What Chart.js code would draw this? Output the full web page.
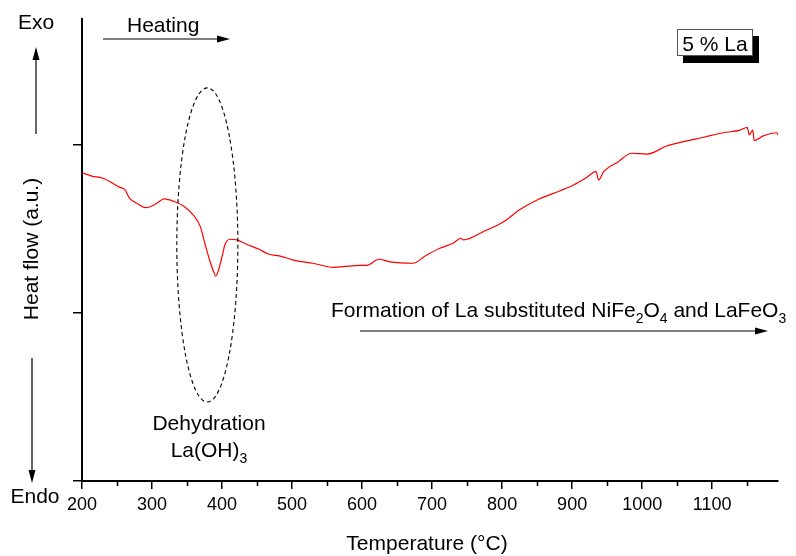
<!DOCTYPE html>
<html>
<head>
<meta charset="utf-8">
<script src="https://cdn.jsdelivr.net/npm/chart.js@4.4.1/dist/chart.umd.min.js"></script>
<style>
  body { margin: 0; background: #fff; }
  #wrap { width: 796px; height: 556px; }
</style>
</head>
<body>
<div id="wrap"><canvas id="dsc" width="796" height="556"></canvas></div>
<script>
// DSC trace (temperature in C, heat flow in a.u.)
const temps = [200, 214, 230, 254, 261, 268, 280, 291, 307, 317, 336, 345, 359, 369, 376, 383, 388, 391, 395, 400,
  404, 411, 421, 435, 453, 466, 483, 502, 530, 559, 573, 597, 607, 624, 640, 673, 690, 711, 730, 741,
  745, 773, 802, 826, 850, 883, 902, 919, 934, 938, 945, 966, 985, 1007, 1035, 1059, 1088, 1116, 1140, 1150,
  1153, 1158, 1160, 1173, 1192, 1194];
const heatFlow = [1.835, 1.815, 1.802, 1.748, 1.736, 1.683, 1.649, 1.627, 1.653, 1.679, 1.656, 1.637, 1.583, 1.514, 1.405, 1.305, 1.246, 1.220, 1.256, 1.335,
  1.405, 1.439, 1.435, 1.409, 1.379, 1.351, 1.339, 1.315, 1.296, 1.272, 1.276, 1.284, 1.284, 1.320, 1.304, 1.296, 1.339, 1.385, 1.415, 1.445,
  1.435, 1.484, 1.543, 1.617, 1.673, 1.728, 1.762, 1.802, 1.841, 1.792, 1.841, 1.901, 1.951, 1.946, 1.994, 2.020, 2.046, 2.073, 2.089, 2.105,
  2.060, 2.089, 2.026, 2.054, 2.073, 2.060];

const xTicks = [200, 300, 400, 500, 600, 700, 800, 900, 1000, 1100];
const xMinorTicks = [250, 350, 450, 550, 650, 750, 850, 950, 1050, 1150];
const yTicks = [0, 1, 2];

// dashed ellipse around the dehydration dip (data units)
const ellipseCenter = [379, 1.405];
const ellipseRadius = [43.6, 0.935];

const FONT = '"Liberation Sans", Arial, sans-serif';

function arrow(ctx, x1, y1, x2, y2) {
    const a = Math.atan2(y2 - y1, x2 - x1);
    const len = 13, hw = 3.5;
    ctx.beginPath();
    ctx.moveTo(x1, y1);
    ctx.lineTo(x2 - len * Math.cos(a), y2 - len * Math.sin(a));
    ctx.stroke();
    ctx.beginPath();
    ctx.moveTo(x2, y2);
    ctx.lineTo(x2 - len * Math.cos(a) + hw * Math.sin(a), y2 - len * Math.sin(a) - hw * Math.cos(a));
    ctx.lineTo(x2 - len * Math.cos(a) - hw * Math.sin(a), y2 - len * Math.sin(a) + hw * Math.cos(a));
    ctx.closePath();
    ctx.fill();
}

// text with subscripts: parts = [[text, isSub], ...]
function subText(ctx, parts, x, y) {
    let cx = x;
    parts.forEach(([t, sub]) => {
        ctx.font = (sub ? '14px ' : '21px ') + FONT;
        ctx.fillText(t, cx, sub ? y + 6 : y);
        cx += ctx.measureText(t).width;
    });
    return cx;
}

function partsWidth(ctx, parts) {
    let w = 0;
    parts.forEach(([t, sub]) => {
        ctx.font = (sub ? '14px ' : '21px ') + FONT;
        w += ctx.measureText(t).width;
    });
    return w;
}

const annotations = {
    id: 'annotations',
    afterDraw(chart) {
        const ctx = chart.ctx;
        const xs = chart.scales.x, ys = chart.scales.y;
        ctx.save();
        ctx.fillStyle = '#000';
        ctx.strokeStyle = '#000';
        ctx.lineWidth = 1.2;
        ctx.textBaseline = 'alphabetic';

        // minor x ticks
        ctx.beginPath();
        xMinorTicks.forEach(v => {
            const px = Math.round(xs.getPixelForValue(v)) + 0.5;
            ctx.moveTo(px, xs.top);
            ctx.lineTo(px, xs.top + 5);
        });
        ctx.lineWidth = 1.5;
        ctx.stroke();
        ctx.lineWidth = 1.2;

        // Exo / Endo
        ctx.font = '21px ' + FONT;
        ctx.textAlign = 'center';
        ctx.fillText('Exo', 36, 29);
        ctx.fillText('Endo', 35, 503);
        arrow(ctx, 36, 134, 36, 47);
        arrow(ctx, 32, 358, 32, 483);

        // axis titles
        ctx.fillText('Temperature (\u00B0C)', 427, 550);
        ctx.save();
        ctx.translate(38, 249);
        ctx.rotate(-Math.PI / 2);
        ctx.fillText('Heat flow (a.u.)', 0, 0);
        ctx.restore();

        // Heating
        ctx.textAlign = 'left';
        ctx.fillText('Heating', 127, 32);
        arrow(ctx, 103, 39, 230, 39);

        // 5 % La box with shadow
        ctx.fillRect(683, 36, 76, 27);
        ctx.fillStyle = '#fff';
        ctx.fillRect(677, 29, 76, 27);
        ctx.strokeStyle = '#555';
        ctx.lineWidth = 1;
        ctx.strokeRect(677.5, 29.5, 75, 26);
        ctx.fillStyle = '#000';
        ctx.strokeStyle = '#000';
        ctx.textAlign = 'center';
        ctx.fillText('5 % La', 715, 51);

        // dashed ellipse
        const ex = xs.getPixelForValue(ellipseCenter[0]);
        const ey = ys.getPixelForValue(ellipseCenter[1]);
        const rx = xs.getPixelForValue(ellipseCenter[0] + ellipseRadius[0]) - ex;
        const ry = ey - ys.getPixelForValue(ellipseCenter[1] + ellipseRadius[1]);
        ctx.beginPath();
        ctx.setLineDash([4, 3]);
        ctx.lineWidth = 1.1;
        ctx.ellipse(ex, ey, rx, ry, 0, 0, Math.PI * 2);
        ctx.stroke();
        ctx.setLineDash([]);

        // Dehydration La(OH)3
        ctx.fillText('Dehydration', 209, 430);
        ctx.textAlign = 'left';
        const p1 = [['La(OH)', false], ['3', true]];
        subText(ctx, p1, 209 - partsWidth(ctx, p1) / 2, 457);

        // Formation text
        const p2 = [['Formation of La substituted NiFe', false], ['2', true], ['O', false], ['4', true],
            [' and LaFeO', false], ['3', true]];
        subText(ctx, p2, 331, 317);
        ctx.lineWidth = 1.2;
        arrow(ctx, 360, 331, 768, 331);

        ctx.restore();
    }
};

function init() {
    const ctx = document.getElementById('dsc');
    new Chart(ctx, {
        type: 'line',
        data: {
            datasets: [{
                data: temps.map((t, i) => ({ x: t, y: heatFlow[i] })),
                borderColor: '#ff0000',
                borderWidth: 1.2,
                pointRadius: 0,
                cubicInterpolationMode: 'monotone',
                fill: false
            }]
        },
        options: {
            responsive: false,
            animation: false,
            layout: { padding: { top: 19, right: 18, left: 0, bottom: 0 } },
            plugins: { legend: { display: false }, tooltip: { enabled: false } },
            scales: {
                x: {
                    type: 'linear',
                    min: 200,
                    max: 1194,
                    afterBuildTicks: s => { s.ticks = xTicks.map(v => ({ value: v })); },
                    afterFit: s => { s.height = 75; },
                    border: { color: '#000', width: 2 },
                    grid: { drawOnChartArea: false, drawTicks: true, tickLength: 8, color: '#000', lineWidth: 1.5 },
                    ticks: { color: '#000', padding: 5, font: { family: FONT, size: 18 }, maxRotation: 0,
                        callback: v => String(v) }
                },
                y: {
                    min: 0,
                    max: 2.75,
                    afterBuildTicks: s => { s.ticks = yTicks.map(v => ({ value: v })); },
                    afterFit: s => { s.width = 82; },
                    border: { color: '#000', width: 2 },
                    grid: { drawOnChartArea: false, drawTicks: true, tickLength: 9, color: '#000', lineWidth: 1.5 },
                    ticks: { display: false }
                }
            }
        },
        plugins: [annotations]
    });
}

document.addEventListener('DOMContentLoaded', init);
</script>
</body>
</html>
